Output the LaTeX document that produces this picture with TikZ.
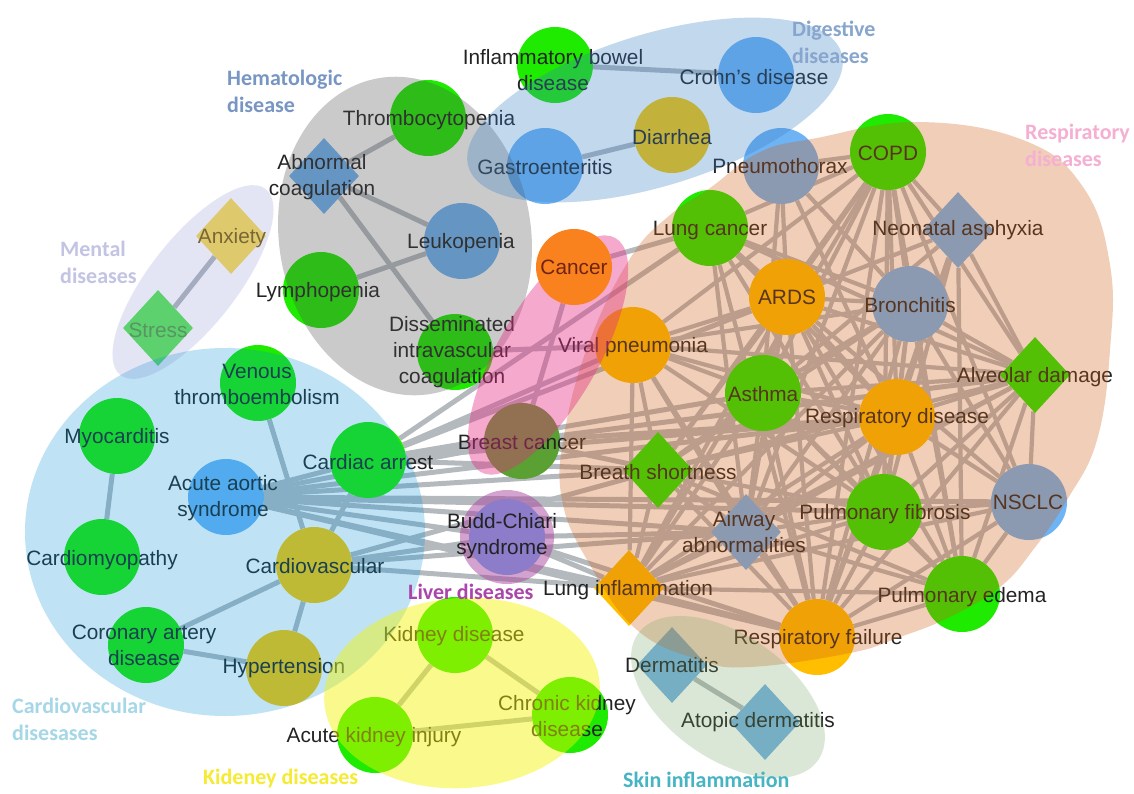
\documentclass[tikz,border=0pt]{standalone}
\usepackage{fontspec}
\setmainfont{Liberation Sans}
\newfontfamily\grpfont{Carlito}
\usetikzlibrary{shapes.geometric}
\pgfdeclarelayer{bglayer}
\pgfdeclarelayer{edgelayer}
\pgfsetlayers{bglayer,edgelayer,main}
%% node colours
\definecolor{cgreen}{RGB}{30,235,0}
\definecolor{cblue}{RGB}{110,180,245}
\definecolor{corange}{RGB}{255,190,0}
\definecolor{cyel}{RGB}{255,200,0}
\definecolor{ccancer}{RGB}{250,130,30}
\definecolor{cbreast}{RGB}{90,160,50}
\definecolor{canx}{RGB}{250,220,90}
\definecolor{cstress}{RGB}{90,230,90}
\definecolor{cderm}{RGB}{120,180,230}
\definecolor{edgegray}{RGB}{180,185,190}
\definecolor{txtgray}{RGB}{35,35,35}
%% group colours
\definecolor{cardioC}{RGB}{0,147,219}
\definecolor{mentalC}{RGB}{105,116,199}
\definecolor{hemaC}{RGB}{82,82,82}
\definecolor{digC}{RGB}{55,126,198}
\definecolor{respC}{RGB}{208,95,22}
\definecolor{pinkC}{RGB}{230,42,130}
\definecolor{liverC}{RGB}{170,70,160}
\definecolor{kidC}{RGB}{244,244,0}
\definecolor{skinC}{RGB}{115,163,95}
%% group label colours
\definecolor{hemaT}{RGB}{120,150,195}
\definecolor{digT}{RGB}{135,165,205}
\definecolor{respT}{RGB}{245,175,210}
\definecolor{mentT}{RGB}{195,195,228}
\definecolor{cardT}{RGB}{165,215,230}
\definecolor{kidT}{RGB}{245,235,50}
\definecolor{livT}{RGB}{170,70,170}
\definecolor{skinT}{RGB}{70,180,195}
\tikzset{
    dnode/.style = {circle, minimum size=76pt, inner sep=0pt, fill=#1},
    dsym/.style = {diamond, minimum width=70pt, minimum height=76pt, inner sep=0pt, fill=#1},
    lbl/.style = {font=\fontsize{20.8}{26}\selectfont, text=txtgray, align=center, inner sep=0pt},
    grplbl/.style = {font=\grpfont\bfseries\fontsize{22}{27}\selectfont, align=left, anchor=west, inner sep=0pt},
    link/.style = {line width=5pt, draw=edgegray},
    grp/.style = {fill=#1}
}

\begin{document}
\begin{tikzpicture}[x=1pt,y=-1pt]
    \useasboundingbox (0,0) rectangle (1134,793);
    \begin{pgfonlayer}{bglayer}
        \fill[white] (0,0) rectangle (1134,793);
    \end{pgfonlayer}

    %% digestive
    \node[dnode=cgreen] (ibd) at (555,65) {};
    \node[dnode=cblue] (crohn) at (756,75) {};
    \node[dnode=cyel] (diarr) at (672,135) {};
    \node[dnode=cblue] (gastro) at (545,166) {};
    %% hematologic
    \node[dnode=cgreen] (thrombo) at (428,118) {};
    \node[dsym=cblue] (abcoag) at (324,176) {};
    \node[dnode=cblue] (leuko) at (462,241) {};
    \node[dnode=cgreen] (lympho) at (321,290) {};
    \node[dnode=cgreen] (dic) at (455,352) {};
    %% mental
    \node[dsym=canx] (anx) at (231,236) {};
    \node[dsym=cstress] (stress) at (158,328) {};
    %% respiratory
    \node[dnode=cblue] (pneumo) at (781,166) {};
    \node[dnode=cgreen] (copd) at (888,152) {};
    \node[dsym=cblue] (neo) at (958,230) {};
    \node[dnode=cgreen] (lungca) at (710,228) {};
    \node[dnode=corange] (ards) at (787,297) {};
    \node[dnode=cblue] (bronch) at (910,304) {};
    \node[dnode=corange] (viral) at (633,345) {};
    \node[dsym=cgreen] (alveo) at (1035,375) {};
    \node[dnode=cgreen] (asthma) at (763,393) {};
    \node[dnode=corange] (respd) at (897,417) {};
    \node[dsym=cgreen] (breath) at (658,470) {};
    \node[dnode=cblue] (nsclc) at (1029,502) {};
    \node[dsym=cblue] (airway) at (746,532) {};
    \node[dnode=cgreen] (fibro) at (884,512) {};
    \node[dsym=corange] (lunginf) at (629,588) {};
    \node[dnode=cgreen] (edema) at (962,594) {};
    \node[dnode=corange] (respf) at (817,637) {};
    %% cancer, liver
    \node[dnode=cbreast] (breast) at (522,441) {};
    \node[dnode=cblue] (budd) at (507,537) {};
    %% cardiovascular
    \node[dnode=cgreen] (vte) at (258,383) {};
    \node[dnode=cgreen] (myoc) at (117,436) {};
    \node[dnode=cgreen] (arrest) at (368,460) {};
    \node[dnode=cblue] (aortic) at (226,497) {};
    \node[dnode=cgreen] (cmyo) at (102,557) {};
    \node[dnode=cyel] (cardio) at (314,565) {};
    \node[dnode=cgreen] (coron) at (146,645) {};
    \node[dnode=cyel] (hyper) at (284,668) {};
    %% kidney, skin
    \node[dnode=cgreen] (kidney) at (455,635) {};
    \node[dnode=cgreen] (ckd) at (570,715) {};
    \node[dnode=cgreen] (aki) at (375,735) {};
    \node[dsym=cderm] (derm) at (672,665) {};
    \node[dsym=cderm] (atopic) at (765,722) {};

    %% labels
    \node[lbl] (ibd-t) at (553,70) {Inflammatory bowel\\disease};
    \node[lbl] (crohn-t) at (754,77) {Crohn's disease};
    \node[lbl] (diarr-t) at (672,137) {Diarrhea};
    \node[lbl] (gastro-t) at (545,167) {Gastroenteritis};
    \node[lbl] (thrombo-t) at (429,120) {Thrombocytopenia};
    \node[lbl] (abcoag-t) at (322,177) {Abnormal\\coagulation};
    \node[lbl] (leuko-t) at (461,243) {Leukopenia};
    \node[lbl] (lympho-t) at (318,292) {Lymphopenia};
    \node[lbl] (dic-t) at (452,352) {Disseminated\\intravascular\\coagulation};
    \node[lbl, text={rgb,255:red,125;green,100;blue,20}] (anx-t) at (232,238) {Anxiety};
    \node[lbl, text={rgb,255:red,85;green,157;blue,78}] (stress-t) at (158,330) {Stress};
    \node[lbl] (pneumo-t) at (780,166) {Pneumothorax};
    \node[lbl] (copd-t) at (888,153) {COPD};
    \node[lbl] (neo-t) at (958,230) {Neonatal asphyxia};
    \node[lbl] (lungca-t) at (710,230) {Lung cancer};
    \node[lbl] (ards-t) at (787,297) {ARDS};
    \node[lbl] (bronch-t) at (910,305) {Bronchitis};
    \node[lbl] (viral-t) at (633,347) {Viral pneumonia};
    \node[lbl] (alveo-t) at (1035,377) {Alveolar damage};
    \node[lbl] (asthma-t) at (763,394) {Asthma};
    \node[lbl] (respd-t) at (897,418) {Respiratory disease};
    \node[lbl] (breath-t) at (658,472) {Breath shortness};
    \node[lbl] (nsclc-t) at (1028,502) {NSCLC};
    \node[lbl] (airway-t) at (744,532) {Airway\\abnormalities};
    \node[lbl] (fibro-t) at (885,514) {Pulmonary fibrosis};
    \node[lbl] (lunginf-t) at (628,590) {Lung inflammation};
    \node[lbl] (edema-t) at (962,597) {Pulmonary edema};
    \node[lbl] (respf-t) at (818,639) {Respiratory failure};
    \node[lbl] (breast-t) at (522,442) {Breast cancer};
    \node[lbl] (vte-t) at (257,384) {Venous\\thromboembolism};
    \node[lbl] (myoc-t) at (117,438) {Myocarditis};
    \node[lbl] (arrest-t) at (368,462) {Cardiac arrest};
    \node[lbl] (aortic-t) at (223,498) {Acute aortic\\syndrome};
    \node[lbl] (cmyo-t) at (102,560) {Cardiomyopathy};
    \node[lbl] (cardio-t) at (315,566) {Cardiovascular};
    \node[lbl] (coron-t) at (144,645) {Coronary artery\\disease};
    \node[lbl] (hyper-t) at (284,668) {Hypertension};
    \node[lbl] (kidney-t) at (454,636) {Kidney disease};
    \node[lbl] (ckd-t) at (567,716) {Chronic kidney\\disease};
    \node[lbl] (aki-t) at (374,737) {Acute kidney injury};
    \node[lbl] (derm-t) at (672,665) {Dermatitis};
    \node[lbl] (atopic-t) at (758,722) {Atopic dermatitis};

    %% groups
    \fill[grp=cardioC, fill opacity=.25] (225,532) ellipse [x radius=200pt, y radius=184pt];
    \fill[grp=mentalC, fill opacity=.18, rotate around={52:(193,282)}] (193,282) ellipse [x radius=118pt, y radius=44pt];
    \fill[grp=hemaC, fill opacity=.3, rotate around={9:(405,236)}] (405,236) ellipse [x radius=126pt, y radius=160pt];
    \fill[grp=digC, fill opacity=.3, rotate around={17:(655,110)}] (655,110) ellipse [x radius=195pt, y radius=76pt];
    \fill[grp=respC, fill opacity=.3] plot[smooth cycle, tension=.7] coordinates {
        (710,188) (760,152) (817,138) (917,122) (1023,140) (1083,187) (1110,265)
        (1110,350) (1097,440) (1067,500) (1033,550) (1000,587) (950,617) (900,637)
        (850,653) (750,667) (700,660) (637,630) (590,565) (562,500) (565,430)
        (590,340) (631,257) (670,215)};
    \fill[grp=pinkC, fill opacity=.4, rotate around={60:(548,355)}] (548,355) ellipse [x radius=135pt, y radius=50pt];
    \fill[grp=liverC, fill opacity=.5] (budd) circle [radius=47pt];
    \fill[grp=kidC, fill opacity=.45, rotate around={4:(462,693)}] (462,693) ellipse [x radius=138pt, y radius=95pt];
    \fill[grp=skinC, fill opacity=.25, rotate around={-35:(728,697)}] (728,697) ellipse [x radius=110pt, y radius=62pt];

    %% on top
    \node[dnode=ccancer] (cancer) at (574,267) {};
    \node[lbl, text={rgb,255:red,110;green,35;blue,20}] (cancer-t) at (574,267) {Cancer};
    \node[lbl] (budd-t) at (502,536) {Budd-Chiari\\syndrome};

    %% connectors
    \begin{pgfonlayer}{edgelayer}
        \foreach \a/\b in {ibd/crohn, gastro/diarr, anx/stress,
            thrombo/abcoag, abcoag/leuko, abcoag/dic, lympho/leuko, dic/viral,
            myoc/cmyo, vte/cardio, arrest/cardio, cardio/coron, cardio/hyper, coron/hyper,
            aortic/arrest, aortic/breast, aortic/budd, aortic/breath, aortic/airway,
            aortic/lunginf, aortic/fibro, aortic/nsclc, aortic/respd, aortic/respf,
            arrest/viral, arrest/lungca, arrest/ards, arrest/breast, arrest/asthma,
            arrest/respd, arrest/alveo, arrest/breath,
            cardio/budd, cardio/lunginf, cardio/airway, cardio/breath,
            cancer/breast, cancer/lungca, breast/respd, breast/breath,
            budd/lunginf, budd/airway, budd/respf,
            kidney/aki, kidney/ckd, aki/ckd, derm/atopic}
            \draw[link] (\a) -- (\b);
        \foreach \a/\b in {copd/pneumo, copd/lungca, copd/ards, copd/asthma, copd/viral,
            copd/breath, copd/airway, copd/lunginf, copd/respf, copd/respd, copd/fibro,
            copd/edema, copd/bronch, copd/alveo, copd/nsclc, copd/neo,
            lungca/ards, lungca/respd, lungca/alveo, lungca/bronch, lungca/airway,
            lungca/fibro, lungca/respf,
            pneumo/ards, pneumo/asthma, pneumo/respd, pneumo/bronch,
            neo/ards, neo/respd, neo/respf, neo/alveo, neo/fibro, neo/edema, neo/asthma,
            ards/asthma, ards/respd, ards/bronch, ards/alveo, ards/breath, ards/airway,
            ards/lunginf, ards/respf, ards/fibro, ards/edema, ards/viral, ards/nsclc,
            bronch/asthma, bronch/respd, bronch/alveo, bronch/airway, bronch/lunginf,
            bronch/respf, bronch/fibro, bronch/edema, bronch/viral, bronch/breath, bronch/nsclc,
            viral/asthma, viral/respd, viral/alveo, viral/breath, viral/lunginf,
            viral/airway, viral/respf, viral/fibro,
            asthma/respd, asthma/alveo, asthma/breath, asthma/airway, asthma/lunginf,
            asthma/respf, asthma/fibro, asthma/edema,
            respd/alveo, respd/breath, respd/airway, respd/lunginf, respd/respf,
            respd/fibro, respd/edema, respd/nsclc,
            alveo/breath, alveo/airway, alveo/lunginf, alveo/respf, alveo/edema,
            alveo/nsclc, alveo/fibro,
            breath/airway, breath/lunginf, breath/respf, breath/fibro, breath/edema,
            airway/lunginf, airway/respf, airway/fibro, airway/edema,
            fibro/lunginf, fibro/respf, fibro/edema, fibro/nsclc,
            nsclc/edema, nsclc/respf, nsclc/lunginf,
            lunginf/respf, lunginf/edema, respf/edema}
            \draw[link, line width=4.2pt] (\a) -- (\b);
    \end{pgfonlayer}

    %% group names
    \node[grplbl, text=hemaT] (hema-n) at (227,91) {Hematologic\\disease};
    \node[grplbl, text=digT] (dig-n) at (792,42) {Digestive\\diseases};
    \node[grplbl, text=respT] (resp-n) at (1025,145) {Respiratory\\diseases};
    \node[grplbl, text=mentT] (ment-n) at (60,262) {Mental\\diseases};
    \node[grplbl, text=cardT] (card-n) at (12,719) {Cardiovascular\\disesases};
    \node[grplbl, text=kidT] (kid-n) at (203,778) {Kideney diseases};
    \node[grplbl, text=livT] (liv-n) at (408,592) {Liver diseases};
    \node[grplbl, text=skinT] (skin-n) at (623,780) {Skin inflammation};
\end{tikzpicture}
\end{document}
